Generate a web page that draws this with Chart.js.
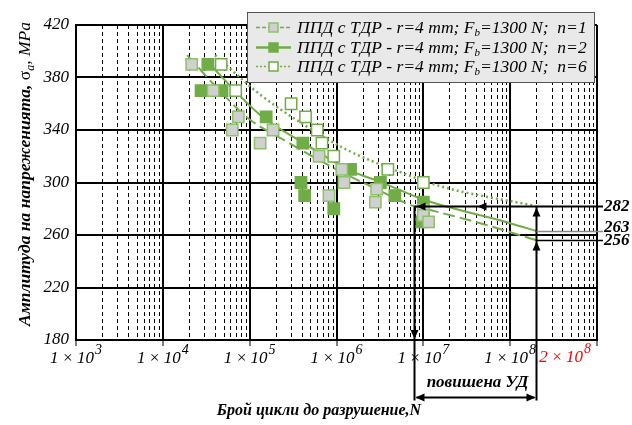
<!DOCTYPE html>
<html><head><meta charset="utf-8">
<script src="https://cdn.jsdelivr.net/npm/chart.js@4/dist/chart.umd.min.js"></script>
<style>html,body{margin:0;padding:0;background:#fff}</style>
</head><body>
<canvas id="c" width="632" height="425" style="width:632px;height:425px;display:block"></canvas>
<script>
// ---------- data ----------
const decadeTicks = [1e3, 1e4, 1e5, 1e6, 1e7, 1e8, 1e9];
const decadeLabels = ['3', '4', '5', '6', '7', '8'];
const yTicks = [180, 220, 260, 300, 340, 380, 420];
const seriesNames = ['n=1', 'n=2', 'n=6'];
const legendPrefix = 'ППД с ТДР - r=4 mm; F';
const legendSub = 'b';
const legendMid = '=1300 N;  ';

// test points (cycles N, stress amplitude MPa)
const n1Cycles = [2.15e4, 3.8e4, 7.4e4, 6.3e4, 1.86e5, 1.32e5, 6.3e5, 1.15e6, 1.22e6, 8.2e5, 2.9e6, 2.8e6, 1e7, 1e7, 1.15e7];
const n1Stress = [390, 370, 350, 340, 340, 330, 320, 310, 300, 290, 295, 285, 279, 275, 270];
const n2Cycles = [3.3e4, 2.76e4, 4.8e4, 1.55e5, 4.1e5, 1.45e6, 3.9e5, 4.3e5, 9.3e5, 3.2e6, 4.7e6, 1e7, 9.6e6];
const n2Stress = [390, 370, 370, 350, 330, 310, 300, 290, 280, 300, 290, 285, 270];
const n6Cycles = [4.7e4, 6.9e4, 3.0e5, 4.4e5, 6.0e5, 6.8e5, 9.3e5, 3.9e6, 1e7];
const n6Stress = [390, 370, 360, 350, 340, 330, 320, 310, 300];

// fitted curves
const fit1Cycles = [1.9e4, 5.9e4, 1e5, 2.7e5, 9.3e5, 2.24e6, 7.8e6, 1.2e7, 4.5e7, 2e8];
const fit1Stress = [397, 362, 348, 331, 311, 298.5, 282, 279, 269, 256];
const fit2Cycles = [2.95e4, 1.32e5, 4.2e5, 1.45e6, 3.2e6, 1e7, 1e8, 2e8];
const fit2Stress = [395, 351.5, 330, 309, 300.5, 287, 269, 263];
const fit6Cycles = [4e4, 1.32e5, 4e5, 1.4e6, 4.5e6, 1.6e7, 2e8];
const fit6Stress = [397, 367, 345, 324, 310, 297, 282];

// reference annotations
const refCycles = 2e8;
const refValues = [282, 263, 256];
const crossCycles = 7.8e6;
const refRangeText = 'повишена УД';
const refCyclesLabel = ['2', '8'];
const xTitle = 'Брой цикли до разрушение,N';
const yTitleParts = ['Амплитуда на напреженията, ', 'σ', 'a', ', MPa'];

// ---------- drawing ----------
const SERIF = "'Liberation Serif','Times New Roman',serif";
const GREEN = '#70ad47';
const pts = (xs, ys) => xs.map((x, i) => ({x, y: ys[i]}));

const markerStyles = [
  {bg: '#d0d0d0', border: '#8cc26a'},
  {bg: GREEN, border: GREEN},
  {bg: '#ffffff', border: GREEN}
];
const lineStyles = [
  {dash: [12, 5], width: 2},
  {dash: [], width: 2},
  {dash: [2, 3], width: 2.5}
];

function arrow(ctx, x, y, dir, len = 9, half = 4) {
  ctx.beginPath();
  if (dir === 'left') { ctx.moveTo(x, y); ctx.lineTo(x + len, y - half); ctx.lineTo(x + len, y + half); }
  if (dir === 'right') { ctx.moveTo(x, y); ctx.lineTo(x - len, y - half); ctx.lineTo(x - len, y + half); }
  if (dir === 'up') { ctx.moveTo(x, y); ctx.lineTo(x - half, y + len); ctx.lineTo(x + half, y + len); }
  if (dir === 'down') { ctx.moveTo(x, y); ctx.lineTo(x - half, y - len); ctx.lineTo(x + half, y - len); }
  ctx.closePath(); ctx.fill();
}

const BIG = `italic 17px ${SERIF}`, SMALL = `italic 14px ${SERIF}`;
function powParts(ctx, mant, exp) {
  ctx.font = BIG; const w1 = ctx.measureText(mant + '\u2009×\u200910').width;
  ctx.font = SMALL; const w2 = ctx.measureText(exp).width;
  return {w1, w2, w: w1 + w2 + 1};
}
function drawPow(ctx, x0, y, mant, exp, color) {
  const p = powParts(ctx, mant, exp);
  ctx.fillStyle = color; ctx.textAlign = 'left'; ctx.textBaseline = 'alphabetic';
  ctx.font = BIG; ctx.fillText(mant + '\u2009×\u200910', x0, y);
  ctx.font = SMALL; ctx.fillText(exp, x0 + p.w1 + 1, y - 9);
}

const minorGrid = {
  id: 'minorGrid',
  beforeDatasetsDraw(chart) {
    const {ctx, chartArea: a} = chart; const xs = chart.scales.x;
    ctx.save(); ctx.strokeStyle = '#000'; ctx.lineWidth = 1; ctx.setLineDash([4, 3]);
    for (let e = 3; e < 9; e++) for (let m = 2; m <= 9; m++) {
      const x = Math.round(xs.getPixelForValue(m * Math.pow(10, e))) + 0.5;
      ctx.beginPath(); ctx.moveTo(x, a.top); ctx.lineTo(x, a.bottom); ctx.stroke();
    }
    ctx.restore();
  }
};

const annotations = {
  id: 'annotations',
  afterDatasetsDraw(chart) {
    const {ctx, chartArea: a} = chart; const xs = chart.scales.x, ys = chart.scales.y;
    const xr = Math.round(xs.getPixelForValue(refCycles)) + 0.5;
    const xc = Math.round(xs.getPixelForValue(crossCycles)) + 0.5;
    const y0 = Math.round(ys.getPixelForValue(refValues[0])) + 0.5;
    const y1 = Math.round(ys.getPixelForValue(refValues[1])) + 0.5;
    const y2 = Math.round(ys.getPixelForValue(refValues[2])) + 0.5;
    const xEnd = a.right + 6;
    const yArrow = 397.5;
    ctx.save();
    ctx.strokeStyle = '#000'; ctx.fillStyle = '#000'; ctx.lineWidth = 2;
    ctx.beginPath(); ctx.moveTo(xc, y0); ctx.lineTo(xEnd, y0); ctx.stroke();
    arrow(ctx, xc + 2, y0, 'left');
    arrow(ctx, (xc + xr) / 2 + 2, y0, 'left');
    ctx.beginPath(); ctx.moveTo(xc, y0); ctx.lineTo(xc, yArrow + 3); ctx.stroke();
    arrow(ctx, xc, a.bottom - 1, 'down');
    ctx.beginPath(); ctx.moveTo(xr, y0); ctx.lineTo(xr, yArrow + 3); ctx.stroke();
    arrow(ctx, xr, y0 + 1, 'up');
    arrow(ctx, xr, y2 + 1, 'up');
    ctx.lineWidth = 1.5;
    ctx.strokeStyle = '#8a8a8a';
    ctx.beginPath(); ctx.moveTo(xr, y1); ctx.lineTo(xEnd, y1); ctx.stroke();
    ctx.strokeStyle = '#000';
    ctx.beginPath(); ctx.moveTo(xr, y2); ctx.lineTo(xEnd, y2); ctx.stroke();
    ctx.lineWidth = 2;
    ctx.beginPath(); ctx.moveTo(xc + 2, yArrow); ctx.lineTo(xr - 2, yArrow); ctx.stroke();
    arrow(ctx, xc + 1, yArrow, 'left');
    arrow(ctx, xr - 1, yArrow, 'right');
    ctx.font = `bold italic 17px ${SERIF}`; ctx.textAlign = 'left'; ctx.textBaseline = 'alphabetic';
    ctx.fillText(String(refValues[0]), 604, 211);
    ctx.fillText(String(refValues[1]), 604, 232);
    ctx.fillText(String(refValues[2]), 604, 245);
    ctx.font = `bold italic 17px ${SERIF}`; ctx.textAlign = 'center';
    ctx.fillText(refRangeText, (xc + xr) / 2 + 2, 387);
    ctx.restore();
  },
  afterDraw(chart) {
    const {ctx} = chart; const xs = chart.scales.x;
    ctx.save();
    decadeLabels.forEach((e, i) => {
      const x = xs.getPixelForValue(decadeTicks[i]);
      const p = powParts(ctx, '1', e);
      drawPow(ctx, x - p.w / 2, 363, '1', e, '#000');
    });
    drawPow(ctx, xs.getPixelForValue(refCycles) + 3, 362, refCyclesLabel[0], refCyclesLabel[1], '#ff0000');
    ctx.fillStyle = '#000'; ctx.font = `bold italic 16px ${SERIF}`; ctx.textAlign = 'center';
    ctx.fillText(xTitle, 319, 415);
    ctx.save(); ctx.translate(30, 174); ctx.rotate(-Math.PI / 2);
    const fonts = [`bold italic 17.5px ${SERIF}`, `17.5px ${SERIF}`, `italic 12px ${SERIF}`, `italic 17.5px ${SERIF}`];
    const dys = [0, 0, 4, 0];
    let tot = 0; const ws = yTitleParts.map((t, i) => { ctx.font = fonts[i]; const w = ctx.measureText(t).width; tot += w; return w; });
    let cx = -tot / 2; ctx.textAlign = 'left';
    yTitleParts.forEach((t, i) => { ctx.font = fonts[i]; ctx.fillText(t, cx, dys[i]); cx += ws[i]; });
    ctx.restore();
    const L = {x: 247, y: 12, w: 347, h: 70};
    ctx.fillStyle = '#e9e9e9'; ctx.fillRect(L.x, L.y, L.w, L.h);
    ctx.strokeStyle = '#555'; ctx.lineWidth = 1; ctx.strokeRect(L.x + 0.5, L.y + 0.5, L.w, L.h);
    const rows = [27, 47, 66];
    seriesNames.forEach((nm, i) => {
      const y = rows[i];
      ctx.strokeStyle = GREEN; ctx.lineWidth = i === 1 ? 2.5 : 1.5; ctx.setLineDash(i === 0 ? [4, 2] : (i === 2 ? [2, 2] : []));
      ctx.beginPath(); ctx.moveTo(256, y + 0.5); ctx.lineTo(291, y + 0.5); ctx.stroke(); ctx.setLineDash([]);
      ctx.fillStyle = markerStyles[i].bg; ctx.strokeStyle = markerStyles[i].border; ctx.lineWidth = 1.5;
      ctx.fillRect(269, y - 4, 9, 9); ctx.strokeRect(269, y - 4, 9, 9);
      ctx.fillStyle = '#000'; ctx.textAlign = 'left';
      let tx = 297;
      ctx.font = `italic 17.5px ${SERIF}`; ctx.fillText(legendPrefix, tx, y + 6); tx += ctx.measureText(legendPrefix).width;
      ctx.font = `italic 11px ${SERIF}`; ctx.fillText(legendSub, tx, y + 9); tx += ctx.measureText(legendSub).width;
      ctx.font = `italic 17.5px ${SERIF}`; ctx.fillText(legendMid + nm, tx, y + 6);
    });
    ctx.restore();
  }
};

const datasets = [];
[[n1Cycles, n1Stress], [n2Cycles, n2Stress], [n6Cycles, n6Stress]].forEach(([xs, ys], i) => {
  datasets.push({
    label: legendPrefix + legendSub + legendMid + seriesNames[i],
    data: pts(xs, ys), showLine: false, pointStyle: 'rect', pointRadius: 8, pointHoverRadius: 8,
    backgroundColor: markerStyles[i].bg, borderColor: markerStyles[i].border, borderWidth: 1.5
  });
});
[[fit1Cycles, fit1Stress], [fit2Cycles, fit2Stress], [fit6Cycles, fit6Stress]].forEach(([xs, ys], i) => {
  datasets.push({
    label: 'fit ' + seriesNames[i],
    data: pts(xs, ys), showLine: true, pointRadius: 0, pointHoverRadius: 0,
    borderColor: GREEN, borderWidth: lineStyles[i].width, borderDash: lineStyles[i].dash,
    cubicInterpolationMode: 'monotone', fill: false
  });
});

new Chart(document.getElementById('c'), {
  type: 'scatter',
  data: {datasets},
  options: {
    responsive: false, animation: false, devicePixelRatio: 1,
    layout: {padding: {left: 0, right: 35, top: 25, bottom: 0}},
    plugins: {legend: {display: false}, tooltip: {enabled: false}},
    scales: {
      x: {
        type: 'logarithmic', min: 1e3, max: 1e9,
        afterBuildTicks: s => { s.ticks = decadeTicks.map(v => ({value: v, major: true})); },
        afterFit: s => { s.height = 85; },
        ticks: {display: false},
        grid: {color: '#000', lineWidth: 2, drawTicks: true, tickLength: 6, tickColor: '#000', tickWidth: 1},
        border: {display: true, color: '#000', width: 2}
      },
      y: {
        min: 180, max: 420,
        afterBuildTicks: s => { s.ticks = yTicks.map(v => ({value: v})); },
        afterFit: s => { s.width = 76; },
        ticks: {color: '#000', padding: 7, font: {family: SERIF, size: 17, style: 'italic'}},
        grid: {color: '#000', lineWidth: 2, drawTicks: false},
        border: {display: true, color: '#000', width: 2}
      }
    }
  },
  plugins: [minorGrid, annotations]
});
</script>
</body></html>
